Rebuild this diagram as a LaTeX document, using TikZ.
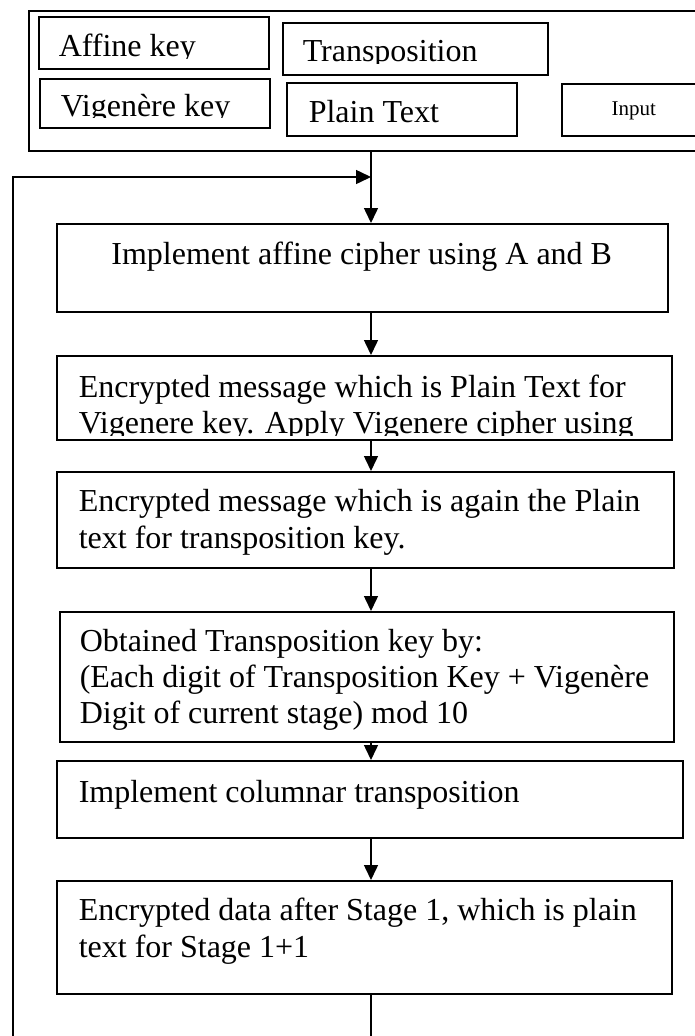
\documentclass[tikz,border=0pt]{standalone}
\usepackage{fontspec}
\setmainfont{Liberation Serif}
\usetikzlibrary{arrows.meta}
\begin{document}
\begin{tikzpicture}[x=1pt,y=-1pt,
  box/.style={draw, line width=1.5pt, rectangle, anchor=north west, inner sep=0pt},
  txt/.style={draw=none, fill=none, inner sep=0pt, outer sep=0pt, minimum width=0pt, minimum height=0pt, anchor=base west, font=\fontsize{32pt}{37pt}\selectfont},
  smalltxt/.style={txt, anchor=base, font=\fontsize{21pt}{24pt}\selectfont},
  ctxt/.style={txt, anchor=base},
  conn/.style={line width=1.5pt},
  arr/.style={conn, -{Triangle[length=15pt,width=14pt]}}]
\useasboundingbox (0,0) rectangle (695,1036);
\coordinate (axis) at (371,0);

% input area
\node[box, minimum width=677pt, minimum height=140pt] (outer) at (28,10) {};
\node[box, minimum width=230pt, minimum height=52pt,
  path picture={
    \clip (path picture bounding box.north west) rectangle ([shift={(1000,42)}]path picture bounding box.north west);
    \node[txt] at ([shift={(20,40)}]path picture bounding box.north west) {Affine key};}] (affine) at (38,16) {};
\node[box, minimum width=265pt, minimum height=52pt,
  path picture={
    \clip (path picture bounding box.north west) rectangle ([shift={(1000,41)}]path picture bounding box.north west);
    \node[txt] at ([shift={(20,39)}]path picture bounding box.north west) {Transposition};}] (trans) at (282,22) {};
\node[box, minimum width=230pt, minimum height=49pt,
  path picture={
    \clip (path picture bounding box.north west) rectangle ([shift={(1000,39)}]path picture bounding box.north west);
    \node[txt] at ([shift={(21,38)}]path picture bounding box.north west) {Vigenère key};}] (vig) at (39,78) {};
\node[box, minimum width=230pt, minimum height=53pt,
  path picture={\node[txt] at ([shift={(22,40)}]path picture bounding box.north west) {Plain Text};}] (plain) at (286,82) {};
\node[box, minimum width=144pt, minimum height=52pt,
  path picture={\node[smalltxt] at ([shift={(72,32)}]path picture bounding box.north west) {Input};}] (input) at (561,83) {};

% flow
\node[box, minimum width=611pt, minimum height=88pt,
  path picture={\node[ctxt] at ([shift={(305,41)}]path picture bounding box.north west) {Implement affine cipher using A and B};}] (b1) at (56,223) {};
\node[box, minimum width=615pt, minimum height=84pt,
  path picture={
    \clip (path picture bounding box.north west) rectangle ([shift={(1000,80)}]path picture bounding box.north west);
    \node[txt] at ([shift={(22,42)}]path picture bounding box.north west) {Encrypted message which is Plain Text for};
    \node[txt] at ([shift={(22,78)}]path picture bounding box.north west) {Vigenere key. Apply Vigenere cipher using};}] (b2) at (56,355) {};
\node[box, minimum width=617pt, minimum height=96pt,
  path picture={
    \node[txt] at ([shift={(22,40)}]path picture bounding box.north west) {Encrypted message which is again the Plain};
    \node[txt] at ([shift={(22,77)}]path picture bounding box.north west) {text for transposition key.};}] (b3) at (56,471) {};
\node[box, minimum width=614pt, minimum height=130pt,
  path picture={
    \node[txt] at ([shift={(20,40)}]path picture bounding box.north west) {Obtained Transposition key by:};
    \node[txt] at ([shift={(20,76)}]path picture bounding box.north west) {(Each digit of Transposition Key + Vigenère};
    \node[txt] at ([shift={(20,112)}]path picture bounding box.north west) {Digit of current stage) mod 10};}] (b4) at (59,611) {};
\node[box, minimum width=626pt, minimum height=77pt,
  path picture={\node[txt] at ([shift={(22,42)}]path picture bounding box.north west) {Implement columnar transposition};}] (b5) at (56,760) {};
\node[box, minimum width=615pt, minimum height=113pt,
  path picture={
    \node[txt] at ([shift={(22,40)}]path picture bounding box.north west) {Encrypted data after Stage 1, which is plain};
    \node[txt] at ([shift={(22,77)}]path picture bounding box.north west) {text for Stage 1+1};}] (b6) at (56,880) {};

% connectors
\draw[arr] (outer.south -| axis) -- (b1.north -| axis);
\draw[arr] (b1.south -| axis) -- (b2.north -| axis);
\draw[arr] (b2.south -| axis) -- (b3.north -| axis);
\draw[arr] (b3.south -| axis) -- (b4.north -| axis);
\draw[arr] (b4.south -| axis) -- (b5.north -| axis);
\draw[arr] (b5.south -| axis) -- (b6.north -| axis);
\coordinate (fbl) at (13,1060);
\coordinate (fbt) at (13,177);
\draw[arr] (b6.south -| axis) -- (axis |- fbl) -- (fbl) -- (fbt) -- (axis |- fbt);
\end{tikzpicture}
\end{document}
